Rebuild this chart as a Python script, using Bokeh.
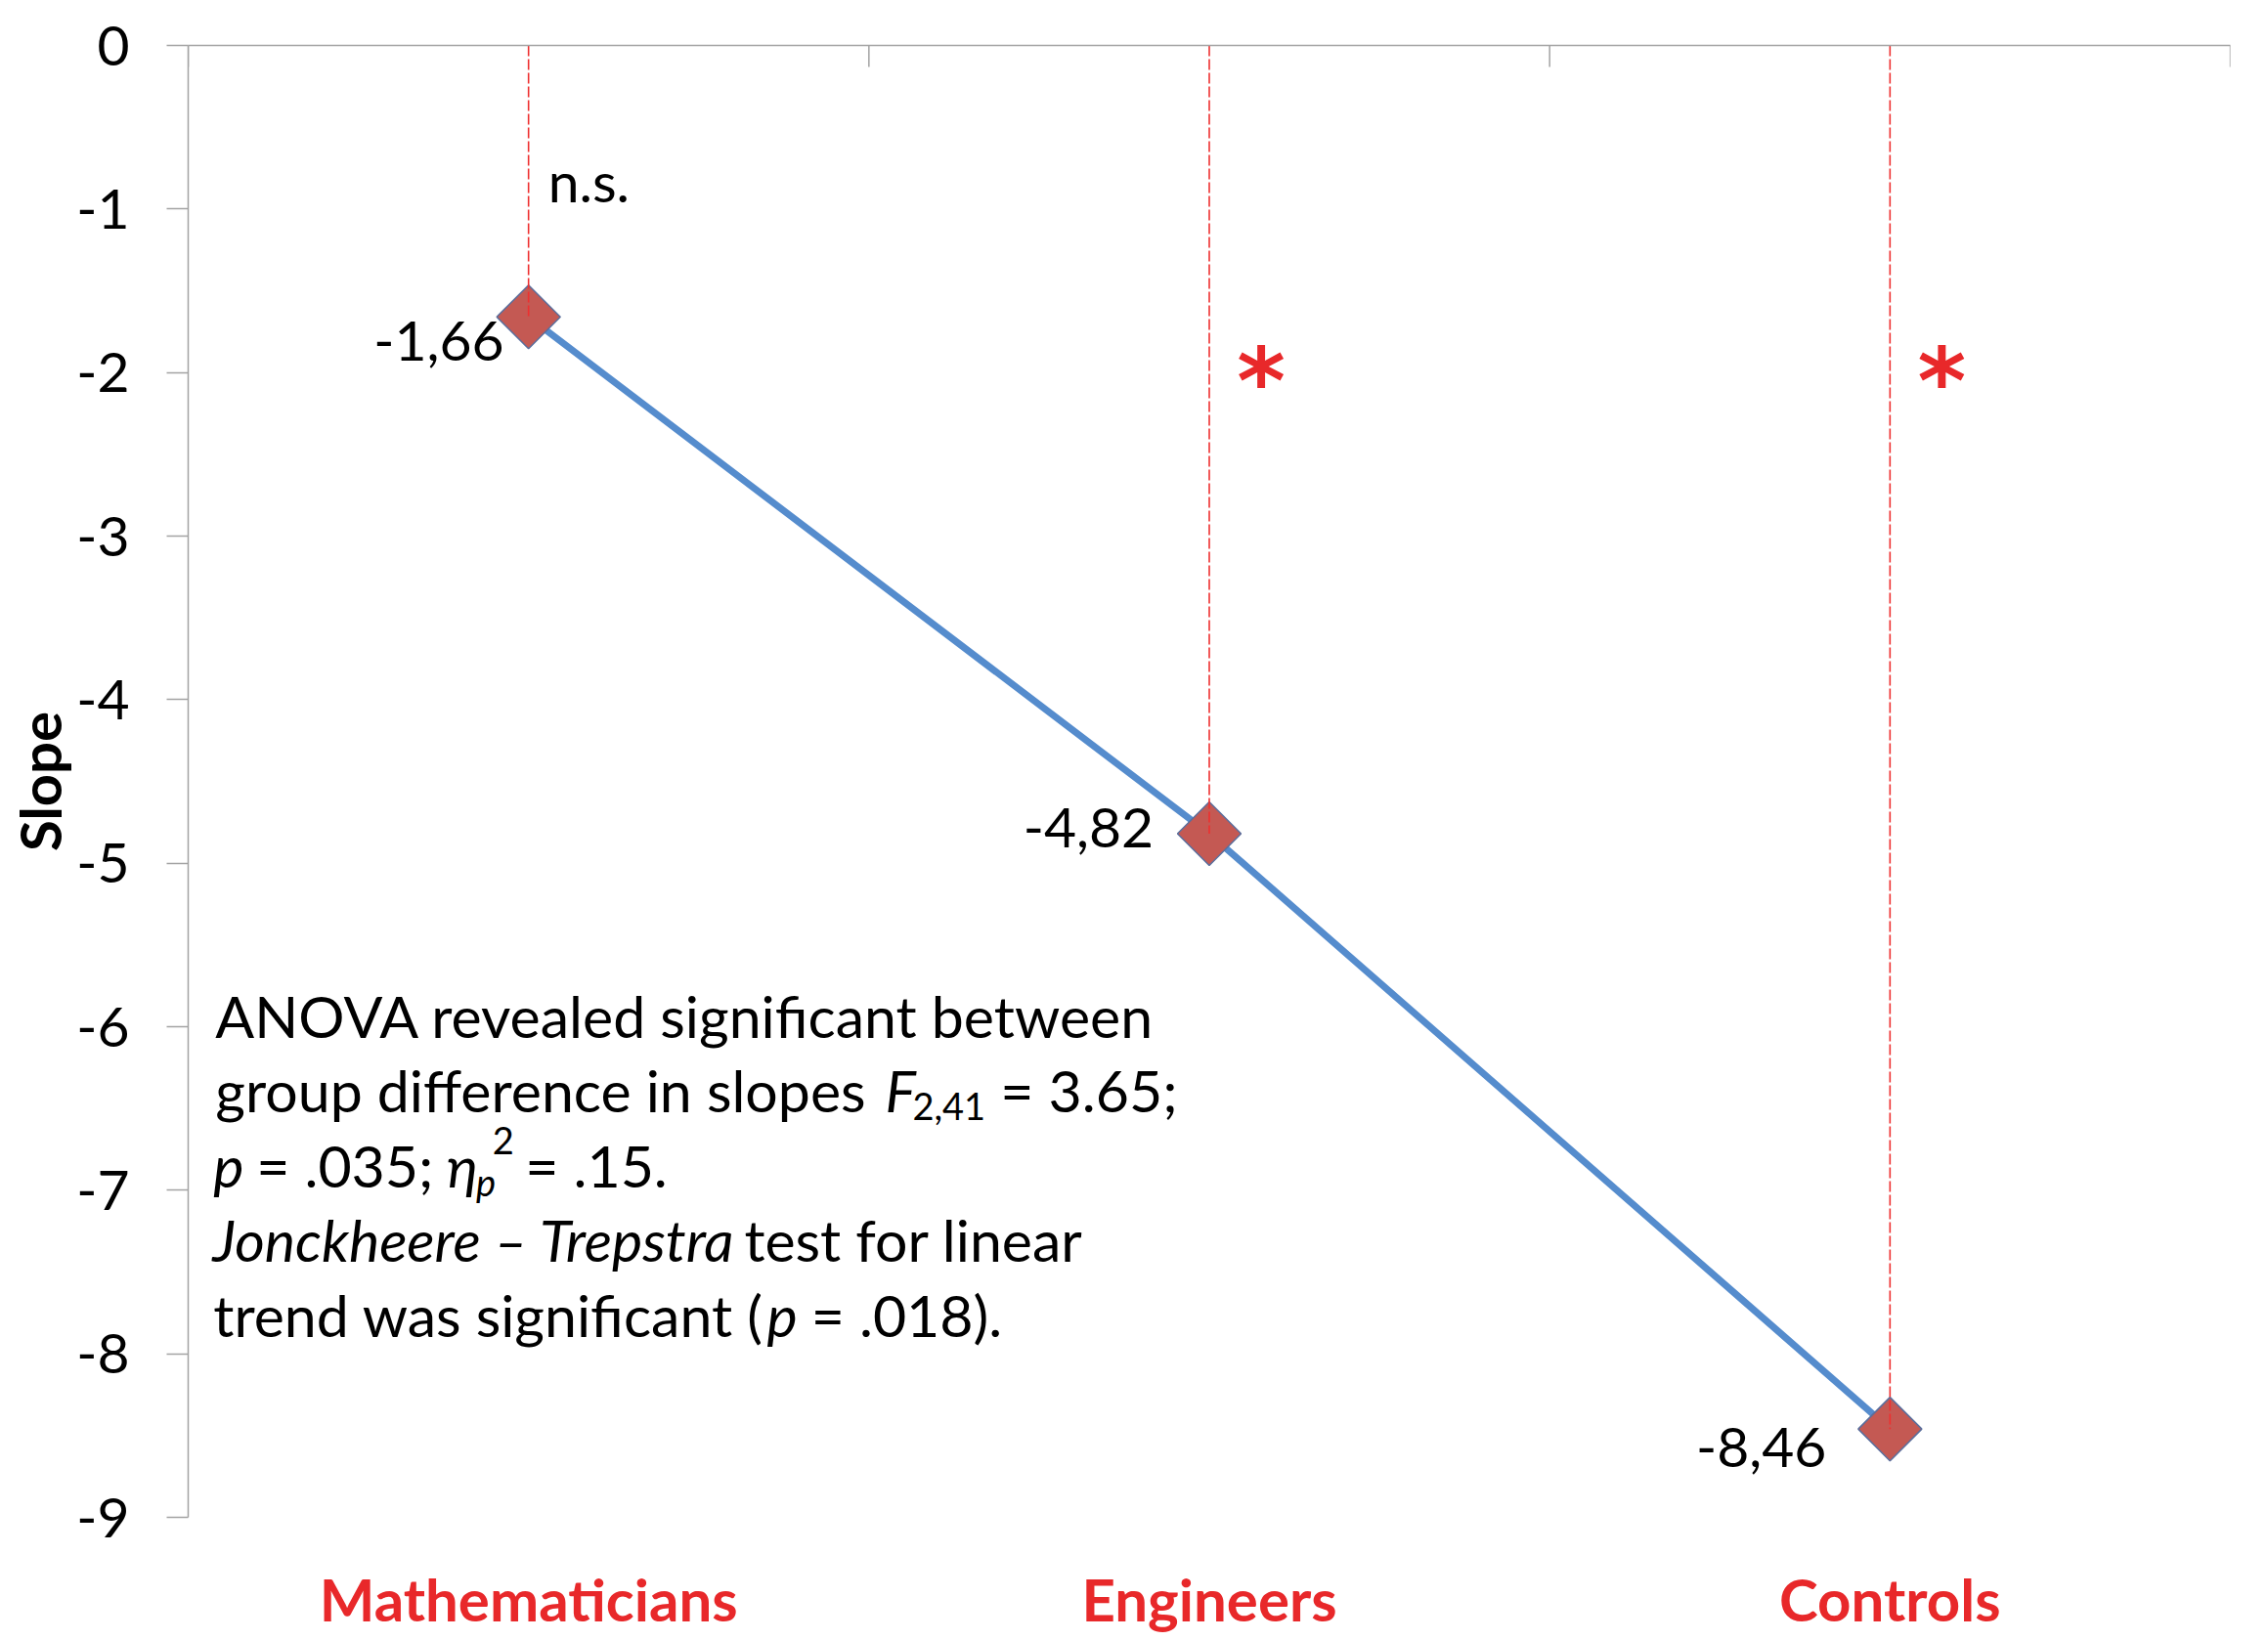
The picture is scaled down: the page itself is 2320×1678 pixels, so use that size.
from bokeh.plotting import figure
from bokeh.models import Range1d, LinearAxis, FixedTicker, ColumnDataSource
from bokeh.core.properties import value
from bokeh.embed import file_html
from bokeh.resources import INLINE
import math

# ---------------- data ----------------
groups = ["Mathematicians", "Engineers", "Controls"]
slopes = [-1.66, -4.82, -8.46]
significance = ["n.s.", "*", "*"]
y_ticks = [0, -1, -2, -3, -4, -5, -6, -7, -8, -9]
y_title = "Slope"

ann_line1 = "ANOVA revealed significant between"
ann_line2 = ["group difference in slopes", "F", "2,41", "= 3.65;"]
ann_line3 = ["p", "= .035;", "η", "p", "2", "= .15."]
ann_line4 = ["Jonckheere – Trepstra", "test for linear"]
ann_line5 = ["trend was significant (", "p", "= .018)."]

# ---------------- styling ----------------
FONT = "Lato"
FS = "57px"
FS_ANN = "59px"
FS_SMALL = "38px"
RED = "#e8282a"
AXIS_GREY = "#a3a3a3"

xs = [i + 0.5 for i in range(len(groups))]
bounds = list(range(len(groups) + 1))
labels = [("%.2f" % v).replace(".", ",") for v in slopes]

p = figure(width=2316, height=1674,
           x_range=Range1d(0, len(groups)), y_range=Range1d(min(y_ticks), max(y_ticks)),
           output_backend="svg", toolbar_location=None,
           min_border_left=192, min_border_right=35, min_border_top=46, min_border_bottom=120)
p.grid.visible = False
p.outline_line_color = None
p.background_fill_color = "white"
p.border_fill_color = "white"

# y axis
ya = p.yaxis[0]
ya.ticker = FixedTicker(ticks=y_ticks)
ya.major_label_overrides = {t: str(t) for t in y_ticks}
ya.minor_tick_line_color = None
ya.major_tick_out = 22
ya.major_tick_in = 0
ya.major_tick_line_color = AXIS_GREY
ya.major_tick_line_width = 1.5
ya.axis_line_color = AXIS_GREY
ya.axis_line_width = 1.5
ya.major_label_standoff = 38
ya.major_label_text_font = FONT
ya.major_label_text_font_size = FS
ya.major_label_text_color = "black"
ya.axis_label = y_title
ya.axis_label_text_font = FONT
ya.axis_label_text_font_size = "58px"
ya.axis_label_text_font_style = "bold"
ya.axis_label_text_color = "black"
ya.axis_label_standoff = 0

# bottom axis: category names only
xa = p.xaxis[0]
xa.ticker = FixedTicker(ticks=xs)
xa.major_label_overrides = {x: g for x, g in zip(xs, groups)}
xa.axis_line_color = None
xa.major_tick_line_color = None
xa.minor_tick_line_color = None
xa.major_tick_out = 0
xa.major_tick_in = 0
xa.major_label_standoff = 47
xa.major_label_text_font = FONT
xa.major_label_text_font_size = "60px"
xa.major_label_text_font_style = "bold"
xa.major_label_text_color = RED

# top axis line at y = 0 (no labels); ticks at category boundaries pointing down
top = LinearAxis(ticker=FixedTicker(ticks=[]),
                 major_tick_line_color=None, minor_tick_line_color=None,
                 axis_line_color=AXIS_GREY, axis_line_width=1.5)
p.add_layout(top, "above")
p.ray(x=bounds, y=[max(y_ticks)] * len(bounds), length=22, length_units="screen",
      angle=-math.pi / 2, line_color=AXIS_GREY, line_width=1.5)

# series line + markers
src = ColumnDataSource(dict(x=xs, y=slopes, label=labels,
                            dx=[-25, -57, -65], dy=[25, -6, 19]))
p.line("x", "y", source=src, line_color="#558ccd", line_width=7)
p.scatter("x", "y", source=src, marker="square", angle=math.pi / 4, size=46,
          fill_color="#c45953", line_color="#5a6e9c", line_width=1.5)

# red dashed drop lines from 0 to each point
p.segment(x0=xs, y0=[max(y_ticks)] * len(xs), x1=xs, y1=slopes,
          line_color="#ee3030", line_width=1.6, line_dash="11 3")

# data labels
p.text("x", "y", text="label", source=src, x_offset="dx", y_offset="dy",
       text_align="right", text_baseline="middle",
       text_font=value(FONT), text_font_size=FS, text_color="black")

# significance markers
ns_x = [x for x, s in zip(xs, significance) if s == "n.s."]
ns_t = [s for s in significance if s == "n.s."]
st_x = [x for x, s in zip(xs, significance) if s == "*"]
st_t = [s for s in significance if s == "*"]
p.text(x=ns_x, y=[-0.83] * len(ns_x), text=ns_t, x_offset=20,
       text_align="left", text_baseline="alphabetic",
       text_font=value(FONT), text_font_size=FS, text_color="black")
p.text(x=st_x, y=[-2.05] * len(st_x), text=st_t, x_offset=53,
       text_align="center", text_baseline="middle",
       text_font=value("DejaVu Sans"), text_font_size="95px",
       text_font_style="bold", text_color=RED)

# annotation block (positions in data units)
base = -5.933
step = 0.457
sub = -0.10
sup = 0.15
seg_x, seg_y, seg_t, seg_style, seg_size = [], [], [], [], []

def add(x, y, t, style="normal", size=FS_ANN):
    seg_x.append(x); seg_y.append(y); seg_t.append(t)
    seg_style.append(style); seg_size.append(size)

add(0.040, base, ann_line1)
y2 = base - step
add(0.040, y2, ann_line2[0])
add(1.024, y2, ann_line2[1], "italic")
add(1.064, y2 + sub, ann_line2[2], "normal", FS_SMALL)
add(1.193, y2, ann_line2[3])
y3 = base - 2 * step
add(0.037, y3, ann_line3[0], "italic")
add(0.100, y3, ann_line3[1])
add(0.380, y3, ann_line3[2], "italic")
add(0.423, y3 + sub, ann_line3[3], "italic", FS_SMALL)
add(0.447, y3 + sup, ann_line3[4], "normal", FS_SMALL)
add(0.495, y3, ann_line3[5])
y4 = base - 3 * step
add(0.036, y4, ann_line4[0], "italic")
add(0.817, y4, ann_line4[1])
y5 = base - 4 * step
add(0.037, y5, ann_line5[0])
add(0.850, y5, ann_line5[1], "italic")
add(0.915, y5, ann_line5[2])

ann = ColumnDataSource(dict(x=seg_x, y=seg_y, t=seg_t, st=seg_style, fs=seg_size))
p.text("x", "y", text="t", source=ann, text_font_style="st", text_font_size="fs",
       text_align="left", text_baseline="alphabetic",
       text_font=value(FONT), text_color="black")

open("out.html", "w").write(file_html(p, INLINE))
